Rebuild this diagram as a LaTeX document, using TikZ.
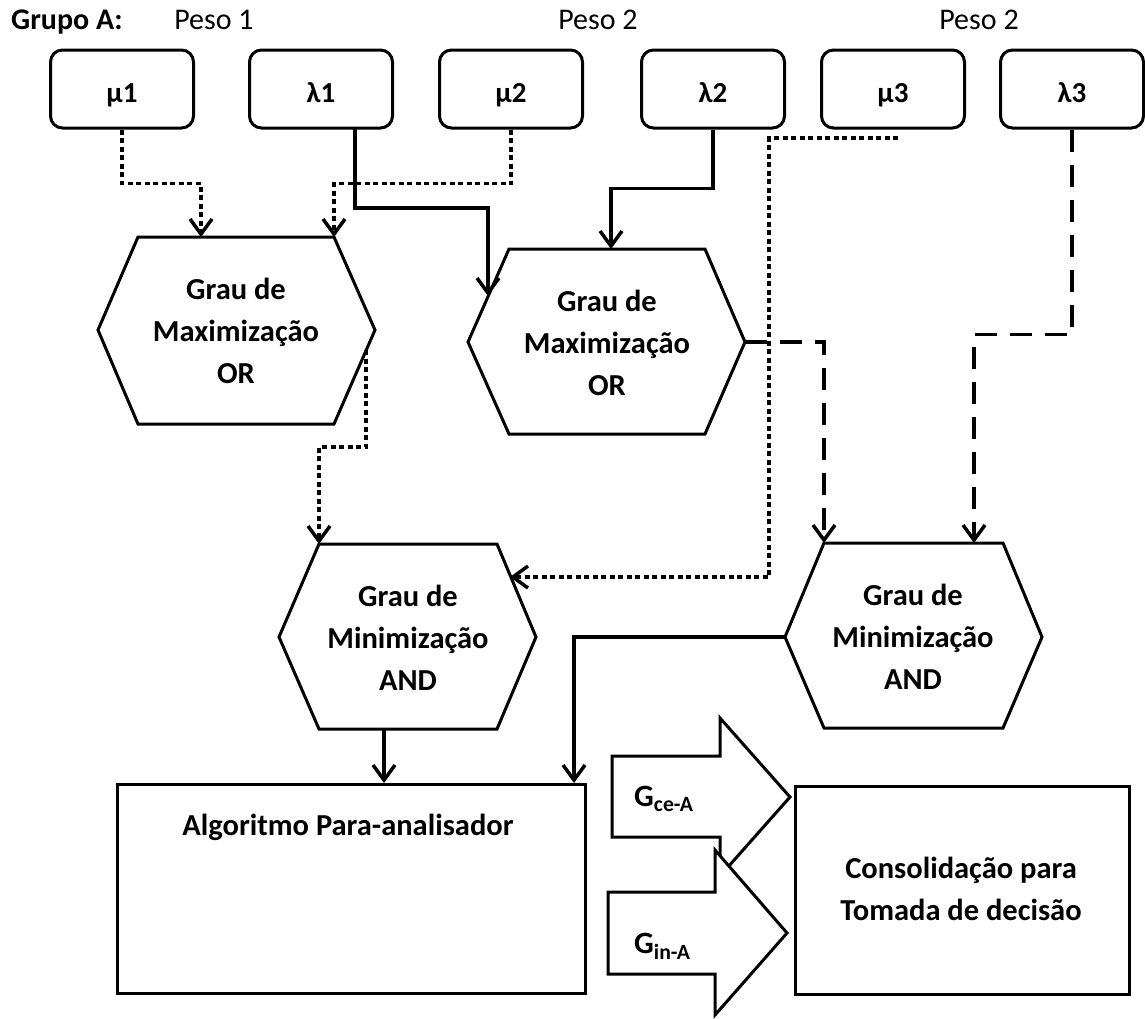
\documentclass[tikz,border=0pt]{standalone}
\usepackage{fontspec}
\setmainfont{Carlito}
\usetikzlibrary{arrows.meta,calc}
\tikzset{
  inbox/.style={draw, line width=3pt, rounded corners=12pt, minimum width=143pt, minimum height=78pt, inner sep=0pt, text height=26pt, text depth=0pt, font=\bfseries\fontsize{29}{34}\selectfont},
  hextext/.style={align=center, inner sep=0pt, font=\bfseries\fontsize{30.5}{42}\selectfont},
  hexline/.style={line width=3pt, line join=miter},
  toplabel/.style={inner sep=0pt, anchor=base, font=\fontsize{30}{34}\selectfont},
  plainbox/.style={draw, line width=3pt},
  boxtext/.style={align=center, inner sep=0pt, font=\bfseries\fontsize{30.5}{42}\selectfont},
  arr/.style={-{Straight Barb[length=15pt,width=22pt]}},
  dotline/.style={line width=3.5pt, dash pattern=on 5pt off 3.5pt},
  dashline/.style={line width=3.5pt, dash pattern=on 22pt off 13pt},
  solidline/.style={line width=3.5pt},
  blockarrow/.style={draw, fill=white, line width=3pt, line join=miter},
  glabel/.style={anchor=base west, inner sep=0pt, font=\bfseries\fontsize{31}{34}\selectfont},
}
\begin{document}
\begin{tikzpicture}[x=1pt, y=-1pt]
\useasboundingbox (0,0) rectangle (1145,1018);
\fill[white] (0,0) rectangle (1145,1018);

% top labels
\node[toplabel, anchor=base west, font=\bfseries\fontsize{30}{34}\selectfont] (grupo) at (11,29) {Grupo A:};
\node[toplabel] (peso1) at (214,29) {Peso 1};
\node[toplabel] (peso2a) at (598,29) {Peso 2};
\node[toplabel] (peso2b) at (979,29) {Peso 2};

% input boxes
\node[inbox] (m1) at (122,89) {μ1};
\node[inbox] (l1) at (321,89) {λ1};
\node[inbox] (m2) at (511,89) {μ2};
\node[inbox] (l2) at (713,89) {λ2};
\node[inbox] (m3) at (893,89) {μ3};
\node[inbox] (l3) at (1072,89) {λ3};

% hexagon 1 (Maximizacao OR, left)
\coordinate (h1TL) at (138,237); \coordinate (h1TR) at (334,237);
\coordinate (h1R) at (375,330); \coordinate (h1BR) at (334,424);
\coordinate (h1BL) at (138,424); \coordinate (h1L) at (98,330);
\draw[hexline] (h1TL) -- (h1TR) -- (h1R) -- (h1BR) -- (h1BL) -- (h1L) -- cycle;
\node[hextext] (h1) at (236,331) {Grau de\\Maximização\\OR};

% hexagon 2 (Maximizacao OR, right)
\coordinate (h2TL) at (509,249); \coordinate (h2TR) at (705,249);
\coordinate (h2R) at (745,342); \coordinate (h2BR) at (705,434);
\coordinate (h2BL) at (509,434); \coordinate (h2L) at (468,342);
\draw[hexline] (h2TL) -- (h2TR) -- (h2R) -- (h2BR) -- (h2BL) -- (h2L) -- cycle;
\node[hextext] (h2) at (607,343) {Grau de\\Maximização\\OR};

% hexagon 3 (Minimizacao AND, left)
\coordinate (h3TL) at (319,544); \coordinate (h3TR) at (497,544);
\coordinate (h3R) at (536,637); \coordinate (h3BR) at (497,729);
\coordinate (h3BL) at (319,729); \coordinate (h3L) at (279,637);
\draw[hexline] (h3TL) -- (h3TR) -- (h3R) -- (h3BR) -- (h3BL) -- (h3L) -- cycle;
\node[hextext] (h3) at (408,638) {Grau de\\Minimização\\AND};

% hexagon 4 (Minimizacao AND, right)
\coordinate (h4TL) at (824,543); \coordinate (h4TR) at (1003,543);
\coordinate (h4R) at (1042,637); \coordinate (h4BR) at (1003,728);
\coordinate (h4BL) at (824,728); \coordinate (h4L) at (785,637);
\draw[hexline] (h4TL) -- (h4TR) -- (h4R) -- (h4BR) -- (h4BL) -- (h4L) -- cycle;
\node[hextext] (h4) at (913,637) {Grau de\\Minimização\\AND};

% bottom boxes
\node[plainbox, minimum width=468pt, minimum height=209pt, anchor=north west] (alg) at (116,783) {};
\node[boxtext, anchor=base] (algtext) at (348,835) {Algoritmo Para-analisador};
\node[plainbox, minimum width=334pt, minimum height=208pt, anchor=north west] (cons) at (794,785) {};
\node[boxtext] (constext) at (961,889) {Consolidação para\\Tomada de decisão};

% connection points
\coordinate (h1in1) at (201,237);
\coordinate (h2in1) at (488,296);
\coordinate (h2in2) at (611,249);
\coordinate (h4in2) at (974,543);
\coordinate (m3out) at (898,138);
\coordinate (m3bend) at (769,577);
\coordinate (h3in2) at (510,577);
\coordinate (h1out) at (366,350);
\coordinate (h3out) at (384,729);
\coordinate (algin1) at (384,783);
\coordinate (algin2) at (574,783);
\coordinate (l1out) at (355,128);

% connectors
\draw[dotline, arr] (m1.south) -- ++(0,54) -| (h1in1);
\draw[dotline, arr] (m2.south) -- ++(0,54) -| (h1TR);
\draw[solidline, arr] (l1out) -- ++(0,80) -| (h2in1);
\draw[solidline, arr] (l2.south) -- ++(0,59) -| (h2in2);
\draw[dashline, arr] (h2R) -| (h4TL);
\draw[dashline, arr] (l3.south) -- ++(0,205) -| (h4in2);
\draw[dotline, arr] (m3out) -| (m3bend) -- (h3in2);
\draw[dotline, arr] (h1out) -- ++(0,97) -| (h3TL);
\draw[solidline, arr] (h4L) -| (algin2);
\draw[solidline, arr] (h3out) -- (algin1);

% block arrows
\draw[blockarrow] (612,756) -- (720,756) -- (720,718) -- (790,797) -- (720,876) -- (720,837) -- (612,837) -- cycle;
\node[glabel] (gce) at (634,806) {G\textsubscript{ce-A}};
\draw[blockarrow] (608,892) -- (715,892) -- (715,850) -- (787,933) -- (715,1015) -- (715,974) -- (608,974) -- cycle;
\node[glabel] (gin) at (634,953) {G\textsubscript{in-A}};
\end{tikzpicture}
\end{document}
